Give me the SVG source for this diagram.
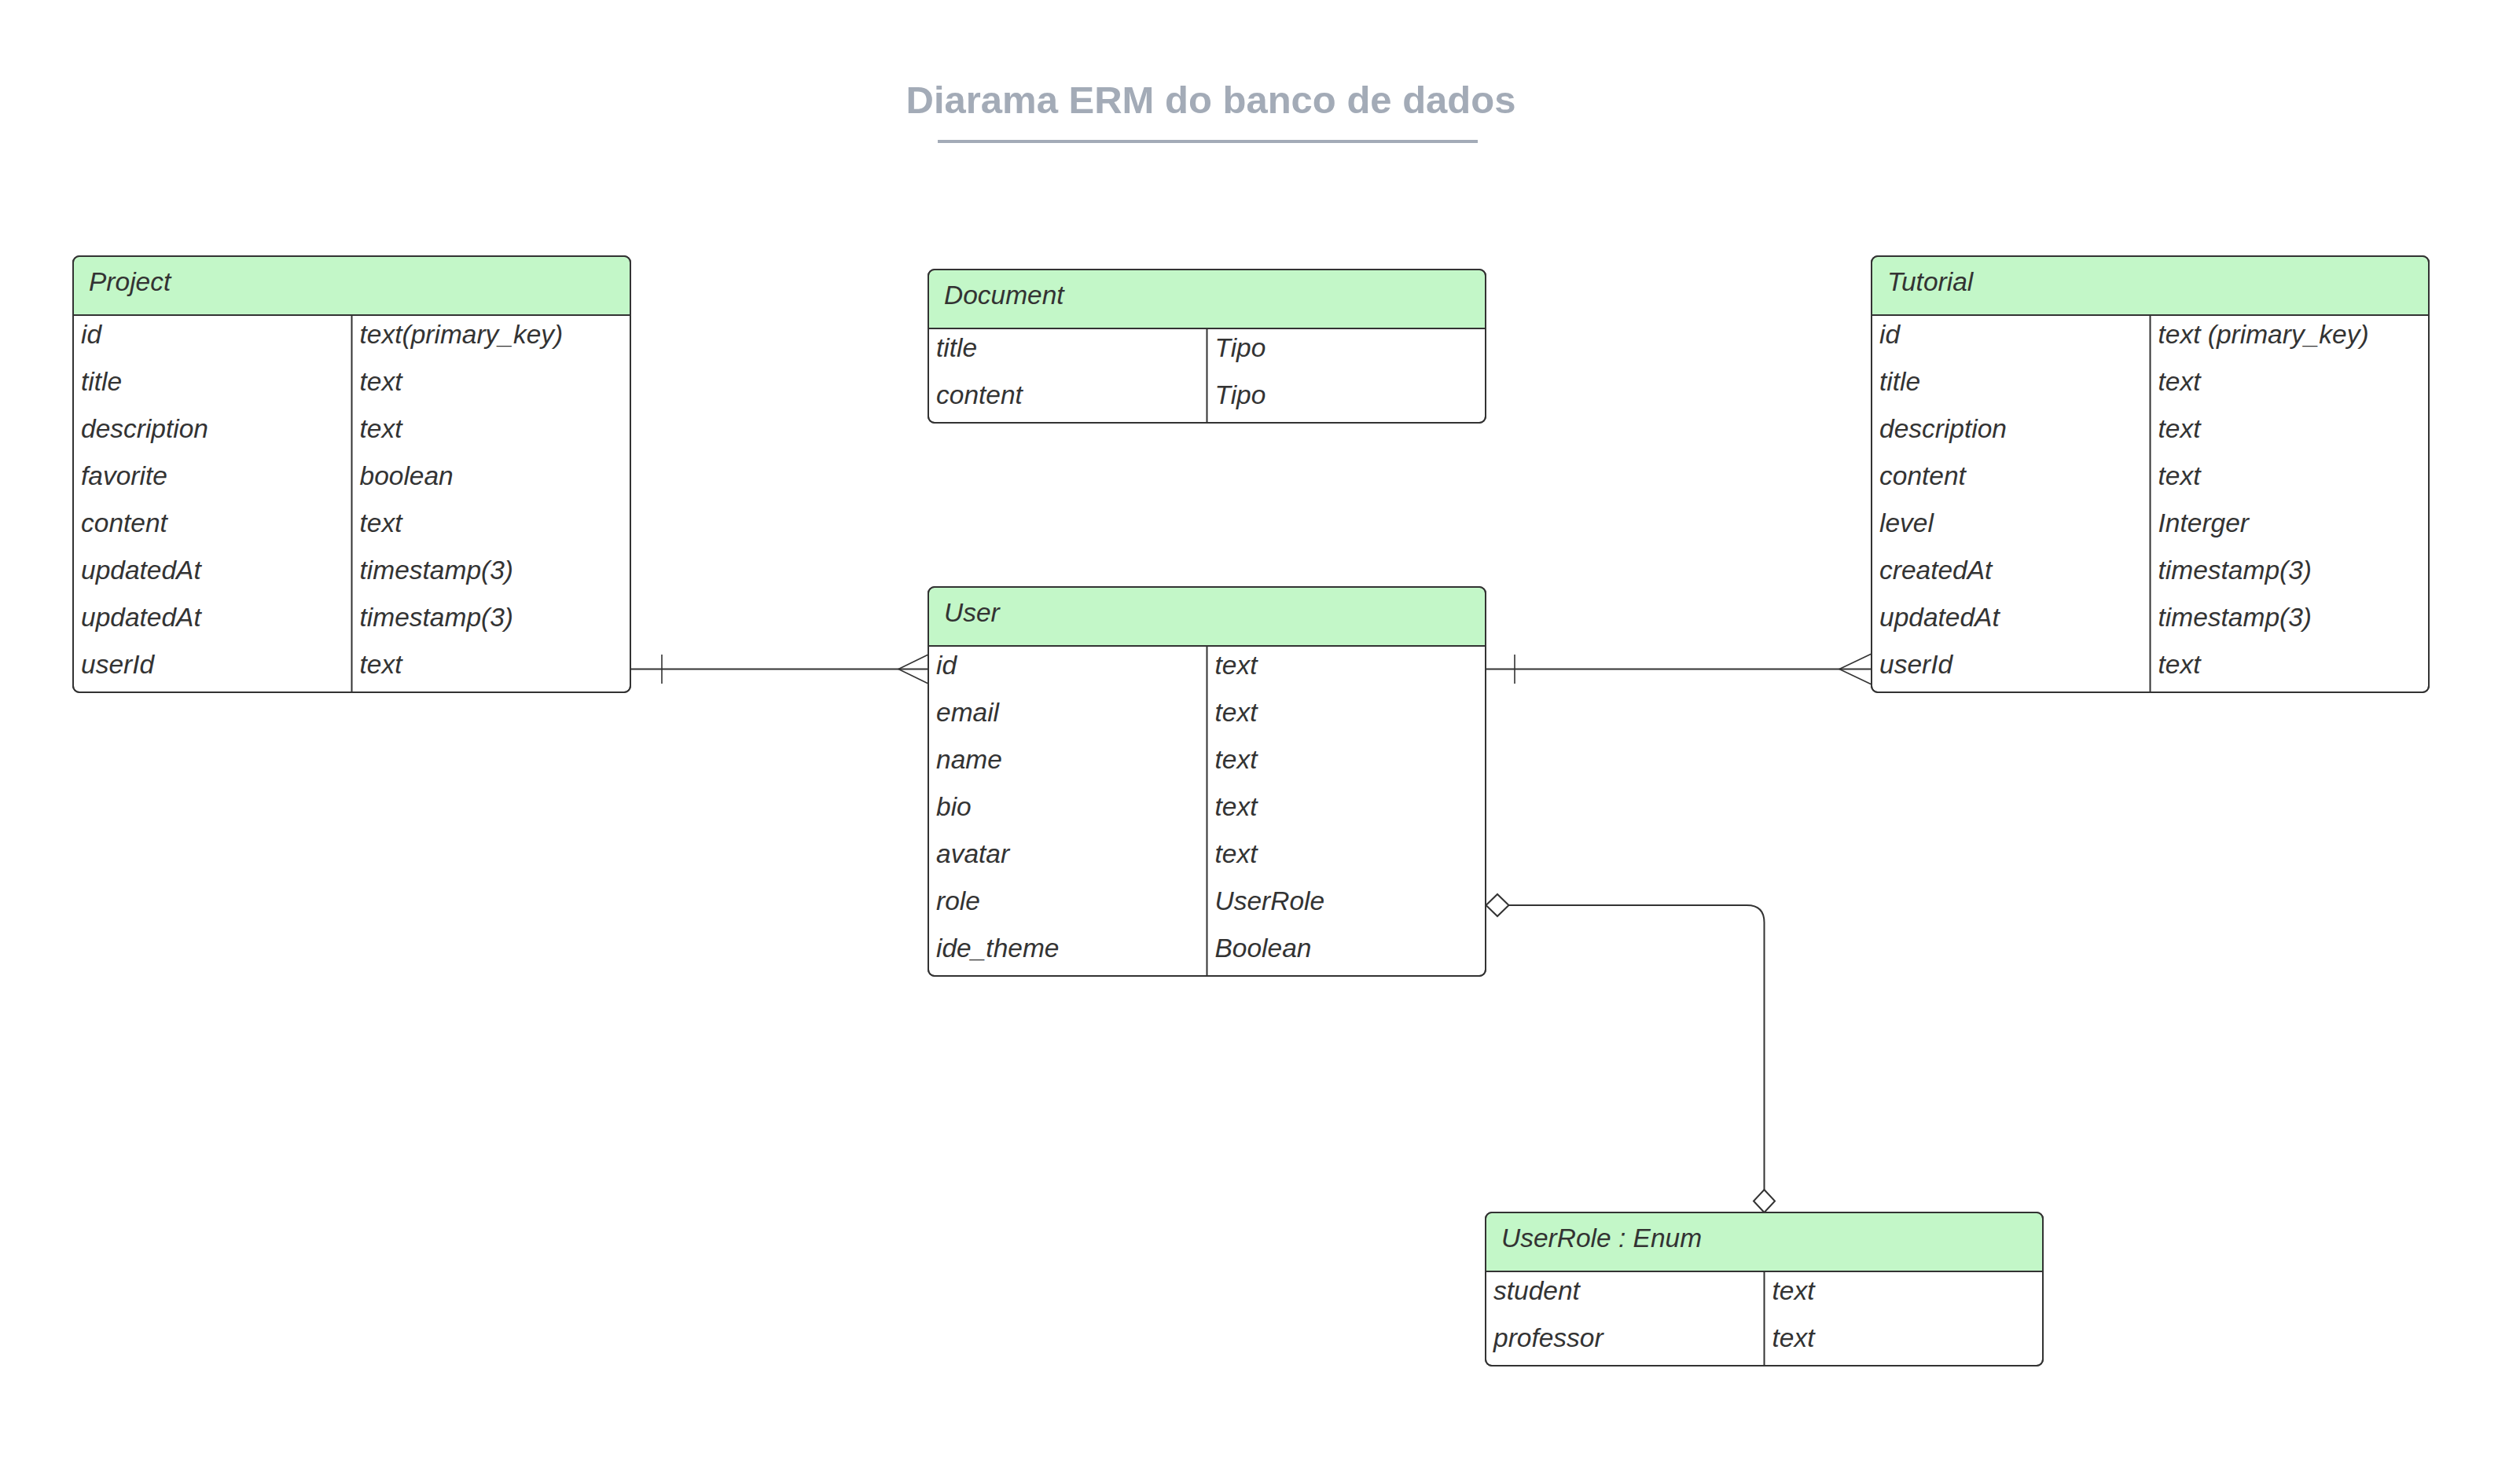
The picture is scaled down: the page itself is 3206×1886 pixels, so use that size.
<svg xmlns="http://www.w3.org/2000/svg" width="3206" height="1886" viewBox="0 0 3206 1886">
<defs>
<style>
.box{fill:#ffffff;stroke:#333333;stroke-width:2}
.hdr{fill:#c3f7c8;stroke:none}
.sep{stroke:#333333;stroke-width:2;fill:none}
.ht{font-family:"Liberation Sans",Arial,sans-serif;font-size:33.5px;font-style:italic;fill:#333333}
.rt{font-family:"Liberation Sans",Arial,sans-serif;font-size:33.5px;font-style:italic;fill:#333333}
.title{font-family:"Liberation Sans",Arial,sans-serif;font-size:49px;font-weight:bold;fill:#a3abb7}
.con{stroke:#333333;stroke-width:2;fill:none}
.thin{stroke:#333333;stroke-width:1.6;fill:none}
.dia{fill:#ffffff;stroke:#333333;stroke-width:2}
</style>
</defs>
<rect x="0" y="0" width="3206" height="1886" fill="#ffffff"/>

<g id="title">
<text class="title" x="1540.5" y="144" text-anchor="middle">Diarama ERM do banco de dados</text>
<line x1="1193" y1="180" x2="1880" y2="180" stroke="#a3abb7" stroke-width="4"/>
</g>

<g id="connectors">
<line class="con" x1="802" y1="851.5" x2="1181" y2="851.5"/>
<line class="thin" x1="842" y1="833" x2="842" y2="870"/>
<polyline class="thin" points="1181,833 1143,851.5 1181,870"/>
<line class="con" x1="1890" y1="851.5" x2="2381" y2="851.5"/>
<line class="thin" x1="1927" y1="833" x2="1927" y2="870"/>
<polyline class="thin" points="2381,832 2340,851.5 2381,871"/>
<path class="con" d="M1919.5,1152 L2222.5,1152 Q2244.5,1152 2244.5,1174 L2244.5,1514"/>
<polygon class="dia" points="1890.5,1152 1905,1138 1919.5,1152 1905,1166"/>
<polygon class="dia" points="2244.5,1543 2231,1528.5 2244.5,1514 2258,1528.5"/>
</g>

<g id="project">
<rect class="box" x="93" y="326" width="709" height="555" rx="8"/>
<path class="hdr" d="M94,401 L94,334 A7,7 0 0 1 101,327 L794,327 A7,7 0 0 1 801,334 L801,401 Z"/>
<line class="sep" x1="93" y1="401" x2="802" y2="401"/>
<line class="sep" x1="447.5" y1="401" x2="447.5" y2="881"/>
<rect x="93" y="326" width="709" height="555" rx="8" fill="none" stroke="#333333" stroke-width="2"/>
<text class="ht" x="113" y="370">Project</text>
<text class="rt" x="103" y="437">id</text><text class="rt" x="457.5" y="437">text(primary_key)</text>
<text class="rt" x="103" y="497">title</text><text class="rt" x="457.5" y="497">text</text>
<text class="rt" x="103" y="557">description</text><text class="rt" x="457.5" y="557">text</text>
<text class="rt" x="103" y="617">favorite</text><text class="rt" x="457.5" y="617">boolean</text>
<text class="rt" x="103" y="677">content</text><text class="rt" x="457.5" y="677">text</text>
<text class="rt" x="103" y="737">updatedAt</text><text class="rt" x="457.5" y="737">timestamp(3)</text>
<text class="rt" x="103" y="797">updatedAt</text><text class="rt" x="457.5" y="797">timestamp(3)</text>
<text class="rt" x="103" y="857">userId</text><text class="rt" x="457.5" y="857">text</text>
</g>

<g id="document">
<rect class="box" x="1181" y="343" width="709" height="195" rx="8"/>
<path class="hdr" d="M1182,418 L1182,351 A7,7 0 0 1 1189,344 L1882,344 A7,7 0 0 1 1889,351 L1889,418 Z"/>
<line class="sep" x1="1181" y1="418" x2="1890" y2="418"/>
<line class="sep" x1="1535.5" y1="418" x2="1535.5" y2="538"/>
<rect x="1181" y="343" width="709" height="195" rx="8" fill="none" stroke="#333333" stroke-width="2"/>
<text class="ht" x="1201" y="387">Document</text>
<text class="rt" x="1191" y="454">title</text><text class="rt" x="1545.5" y="454">Tipo</text>
<text class="rt" x="1191" y="514">content</text><text class="rt" x="1545.5" y="514">Tipo</text>
</g>

<g id="user">
<rect class="box" x="1181" y="747" width="709" height="495" rx="8"/>
<path class="hdr" d="M1182,822 L1182,755 A7,7 0 0 1 1189,748 L1882,748 A7,7 0 0 1 1889,755 L1889,822 Z"/>
<line class="sep" x1="1181" y1="822" x2="1890" y2="822"/>
<line class="sep" x1="1535.5" y1="822" x2="1535.5" y2="1242"/>
<rect x="1181" y="747" width="709" height="495" rx="8" fill="none" stroke="#333333" stroke-width="2"/>
<text class="ht" x="1201" y="791">User</text>
<text class="rt" x="1191" y="858">id</text><text class="rt" x="1545.5" y="858">text</text>
<text class="rt" x="1191" y="918">email</text><text class="rt" x="1545.5" y="918">text</text>
<text class="rt" x="1191" y="978">name</text><text class="rt" x="1545.5" y="978">text</text>
<text class="rt" x="1191" y="1038">bio</text><text class="rt" x="1545.5" y="1038">text</text>
<text class="rt" x="1191" y="1098">avatar</text><text class="rt" x="1545.5" y="1098">text</text>
<text class="rt" x="1191" y="1158">role</text><text class="rt" x="1545.5" y="1158">UserRole</text>
<text class="rt" x="1191" y="1218">ide_theme</text><text class="rt" x="1545.5" y="1218">Boolean</text>
</g>

<g id="tutorial">
<rect class="box" x="2381" y="326" width="709" height="555" rx="8"/>
<path class="hdr" d="M2382,401 L2382,334 A7,7 0 0 1 2389,327 L3082,327 A7,7 0 0 1 3089,334 L3089,401 Z"/>
<line class="sep" x1="2381" y1="401" x2="3090" y2="401"/>
<line class="sep" x1="2735.5" y1="401" x2="2735.5" y2="881"/>
<rect x="2381" y="326" width="709" height="555" rx="8" fill="none" stroke="#333333" stroke-width="2"/>
<text class="ht" x="2401" y="370">Tutorial</text>
<text class="rt" x="2391" y="437">id</text><text class="rt" x="2745.5" y="437">text (primary_key)</text>
<text class="rt" x="2391" y="497">title</text><text class="rt" x="2745.5" y="497">text</text>
<text class="rt" x="2391" y="557">description</text><text class="rt" x="2745.5" y="557">text</text>
<text class="rt" x="2391" y="617">content</text><text class="rt" x="2745.5" y="617">text</text>
<text class="rt" x="2391" y="677">level</text><text class="rt" x="2745.5" y="677">Interger</text>
<text class="rt" x="2391" y="737">createdAt</text><text class="rt" x="2745.5" y="737">timestamp(3)</text>
<text class="rt" x="2391" y="797">updatedAt</text><text class="rt" x="2745.5" y="797">timestamp(3)</text>
<text class="rt" x="2391" y="857">userId</text><text class="rt" x="2745.5" y="857">text</text>
</g>

<g id="userrole">
<rect class="box" x="1890" y="1543" width="709" height="195" rx="8"/>
<path class="hdr" d="M1891,1618 L1891,1551 A7,7 0 0 1 1898,1544 L2591,1544 A7,7 0 0 1 2598,1551 L2598,1618 Z"/>
<line class="sep" x1="1890" y1="1618" x2="2599" y2="1618"/>
<line class="sep" x1="2244.5" y1="1618" x2="2244.5" y2="1738"/>
<rect x="1890" y="1543" width="709" height="195" rx="8" fill="none" stroke="#333333" stroke-width="2"/>
<text class="ht" x="1910" y="1587">UserRole : Enum</text>
<text class="rt" x="1900" y="1654">student</text><text class="rt" x="2254.5" y="1654">text</text>
<text class="rt" x="1900" y="1714">professor</text><text class="rt" x="2254.5" y="1714">text</text>
</g>
</svg>
